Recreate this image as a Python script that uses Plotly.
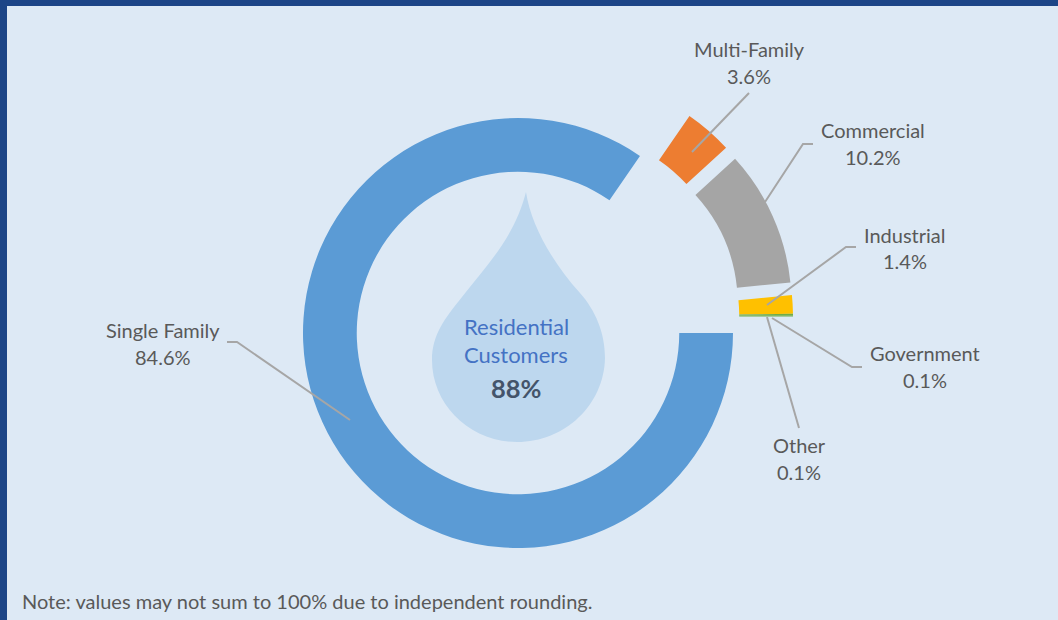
import plotly.graph_objects as go

W, H = 1058, 620

# data
categories = ["Single Family", "Multi-Family", "Commercial", "Industrial", "Government", "Other"]
values = [84.6, 3.6, 10.2, 1.4, 0.1, 0.1]
colors = ["#5B9BD5", "#ED7D31", "#A5A5A5", "#FFC000", "#70AD47", "#70AD47"]
center_lines = ["Residential", "Customers"]
center_value = "88%"
note = "Note: values may not sum to 100% due to independent rounding."

# exploded groups: slice indices and how far (px) each group moves from the centre
groups = [
    ([0], (0, 0)),
    ([1], (49.5, -40)),
    ([2], (58.5, -29)),
    ([3, 4, 5], (60, -16.5)),
]

def px(x):
    return x / W

def py(y):
    return 1 - y / H

CX, CY, R = 518, 333, 215
TOTAL = sum(values)

fig = go.Figure()
for idx, (dx, dy) in groups:
    start = 90 + 360 * sum(values[:idx[0]]) / TOTAL
    vals = [values[i] for i in idx]
    fig.add_trace(go.Pie(
        labels=[categories[i] for i in idx] + [" "],
        values=vals + [TOTAL - sum(vals)],
        sort=False,
        direction="clockwise",
        rotation=start % 360,
        hole=0.75,
        marker=dict(colors=[colors[i] for i in idx] + ["rgba(0,0,0,0)"], line=dict(width=0)),
        textinfo="none",
        hoverinfo=["label+percent"] * len(idx) + ["skip"],
        showlegend=False,
        domain=dict(x=[px(CX + dx - R), px(CX + dx + R)], y=[py(CY + dy + R), py(CY + dy - R)]),
    ))

TEXT = "#595959"
FONT = "Lato"
label_pos = {
    "Single Family": (163, 331, 358),
    "Multi-Family": (749, 50, 77),
    "Commercial": (873, 131, 158),
    "Industrial": (905, 236, 262),
    "Government": (925, 354, 381),
    "Other": (799, 446, 473),
}

def add_text(text, x, y, size=20, color=TEXT, anchor="center", bold=False):
    fig.add_annotation(
        text=f"<b>{text}</b>" if bold else text,
        x=px(x), y=py(y), xref="paper", yref="paper",
        xanchor=anchor, yanchor="middle", showarrow=False,
        font=dict(family=FONT, size=size, color=color),
    )

for name, val in zip(categories, values):
    x, y1, y2 = label_pos[name]
    add_text(name, x, y1 - 1)
    add_text(f"{val}%", x, y2 - 1)

add_text(center_lines[0], 516, 326, size=22, color="#4472C4")
add_text(center_lines[1], 516, 354, size=22, color="#4472C4")
add_text(center_value, 516, 388, size=25.5, color="#44546A", bold=True)
add_text(note, 20, 601, size=20, anchor="left")

leaders = [
    [(749, 93), (692, 152)],
    [(813, 144), (803, 144), (765, 202)],
    [(856, 247), (846, 247), (767, 305)],
    [(862, 367), (852, 367), (772, 318)],
    [(799, 428), (767, 317)],
    [(227, 342), (237, 342), (350, 420)],
]

def path_of(points):
    return "M " + " L ".join(f"{px(x):.5f} {py(y):.5f}" for x, y in points)

shapes = [
    dict(type="rect", xref="paper", yref="paper", x0=0, x1=1, y0=1 - 6 / H, y1=1,
         fillcolor="#1C4587", line_width=0, layer="below"),
    dict(type="rect", xref="paper", yref="paper", x0=0, x1=7 / W, y0=0, y1=1,
         fillcolor="#1C4587", line_width=0, layer="below"),
]

def c(a, b, e):
    return f"C {px(a[0]):.5f} {py(a[1]):.5f} {px(b[0]):.5f} {py(b[1]):.5f} {px(e[0]):.5f} {py(e[1]):.5f}"

drop = (f"M {px(526):.5f} {py(192):.5f} "
        + c((531, 225), (552, 262), (580, 293)) + " "
        + c((595, 310), (605, 332), (605, 358)) + " "
        + c((604, 405), (565, 442), (517, 442)) + " "
        + c((470, 442), (432, 405), (432, 360)) + " "
        + c((432, 335), (445, 318), (462, 297)) + " "
        + c((490, 262), (515, 235), (526, 192)) + " Z")
shapes.append(dict(type="path", xref="paper", yref="paper", path=drop,
                   fillcolor="#BDD7EE", line_width=0, layer="below"))

for pts in leaders:
    shapes.append(dict(type="path", xref="paper", yref="paper", path=path_of(pts),
                       line=dict(color="#A6A6A6", width=2), layer="above"))

fig.update_layout(
    width=W, height=H,
    margin=dict(l=0, r=0, t=0, b=0),
    paper_bgcolor="#DDE9F5",
    shapes=shapes,
)

fig.write_html(
    "out.html",
    config={"displayModeBar": False},
    post_script="document.body.style.margin='0';document.body.style.overflow='hidden';",
)
